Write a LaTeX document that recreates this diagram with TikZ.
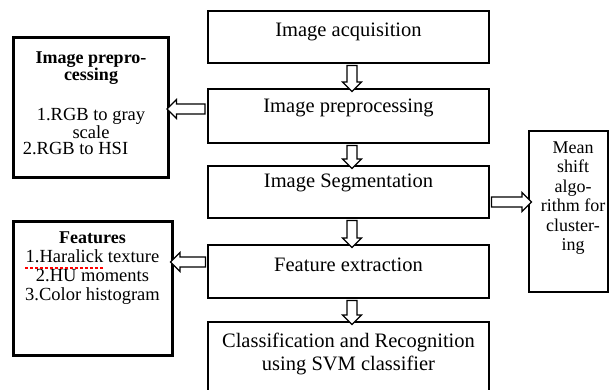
\documentclass[tikz,border=0pt]{standalone}
\usepackage{fontspec}
\setmainfont{Liberation Serif}
\usetikzlibrary{shapes.arrows,calc}
\begin{document}
\begin{tikzpicture}[x=1pt,y=-1pt,
  stage/.style={draw, line width=1.3pt, minimum width=281pt, inner sep=0pt},
  sidebox/.style={draw, line width=3pt, inner sep=0pt},
  notebox/.style={draw, line width=1.3pt, inner sep=0pt},
  steptext/.style={font=\fontsize{20.5}{23}\selectfont, align=center, inner sep=0pt},
  sidetext/.style={font=\fontsize{18.5}{16.8}\selectfont, align=center, inner sep=0pt},
  sidehead/.style={font=\fontsize{18}{17}\selectfont\bfseries, align=center, inner sep=0pt},
  hollow/.style={single arrow, draw, line width=1.2pt, fill=white,
    minimum width=0pt, single arrow head extend=4.5pt, single arrow head indent=0pt},
  harrow/.style={hollow, inner xsep=0pt, inner ysep=4.4pt},
  varrow/.style={hollow, shape border rotate=270, inner xsep=4.4pt, inner ysep=0pt},
]
\useasboundingbox (0,0) rectangle (610,390);
\clip (0,0) rectangle (610,390);

% main processing chain
\node[stage, minimum height=52pt] (acq) at (348.5,37) {};
\node[stage, minimum height=54pt] (pre) at (348.5,116) {};
\node[stage, minimum height=52pt] (seg) at (348.5,192) {};
\node[stage, minimum height=53pt] (fex) at (348.5,271.5) {};
\node[stage, minimum height=73pt] (cls) at (348.5,358.5) {};

\node[steptext] (tacq) at (348.5,32) {Image acquisition};
\node[steptext] (tpre) at (348.5,108) {Image preprocessing};
\node[steptext] (tseg) at (348.5,183) {Image Segmentation};
\node[steptext] (tfex) at (348.5,265) {Feature extraction};
\node[steptext] (tcls) at (348.5,353.5) {Classification and Recognition\\using SVM classifier};

% side boxes
\node[sidebox, minimum width=155pt, minimum height=140pt] (prep) at (90.5,108) {};
\node[sidebox, minimum width=159pt, minimum height=134pt] (feat) at (92.5,288) {};
\node[notebox, minimum width=79pt, minimum height=161pt] (mean) at (568.5,211.5) {};

\node[sidehead] (prephead) at (91,68.5) {Image prepro-\\cessing};
\node[sidetext] (preplist) at (91,131.5)
  {1.RGB to gray\\scale\\2.RGB to HSI\hspace*{31pt}};

\node[sidetext, font=\fontsize{18.5}{19}\selectfont] (featlist) at (92.5,268.5)
  {{\fontsize{18}{19}\selectfont\bfseries Features}\\1.Haralick texture\\2.HU moments\\3.Color histogram};
% spell-check style underline under the first feature
\draw[red, line width=1.8pt, dash pattern=on 3pt off 2pt] (25,268) -- (104,268);

\node[sidetext, font=\fontsize{18}{19.5}\selectfont] (meantext) at (573,198)
  {Mean\\shift\\algo-\\rithm for\\cluster-\\ing};

% hollow block arrows
\coordinate (ypre) at (0,109);
\coordinate (yfex) at (0,262);
\coordinate (yseg) at (0,202);
\coordinate (xdn) at (352,0);

\node[varrow, minimum height=26pt] (a1)
  at ($(acq.south -| xdn)!0.5!(pre.north -| xdn)$) {};
\node[varrow, minimum height=23pt] (a2)
  at ($(pre.south -| xdn)!0.5!(seg.north -| xdn)$) {};
\node[varrow, minimum height=27pt] (a3)
  at ($(seg.south -| xdn)!0.5!(fex.north -| xdn)$) {};
\node[varrow, minimum height=24pt] (a4)
  at ($(fex.south -| xdn)!0.5!(cls.north -| xdn)$) {};

\node[harrow, shape border rotate=180, minimum height=38pt] (a5)
  at ($(pre.west |- ypre)!0.5!(prep.east |- ypre)$) {};
\node[harrow, shape border rotate=180, minimum height=35pt] (a6)
  at ($(fex.west |- yfex)!0.5!(feat.east |- yfex)$) {};
\node[harrow, minimum height=40pt] (a7)
  at ($(seg.east |- yseg)!0.5!(mean.west |- yseg)$) {};
\end{tikzpicture}
\end{document}
